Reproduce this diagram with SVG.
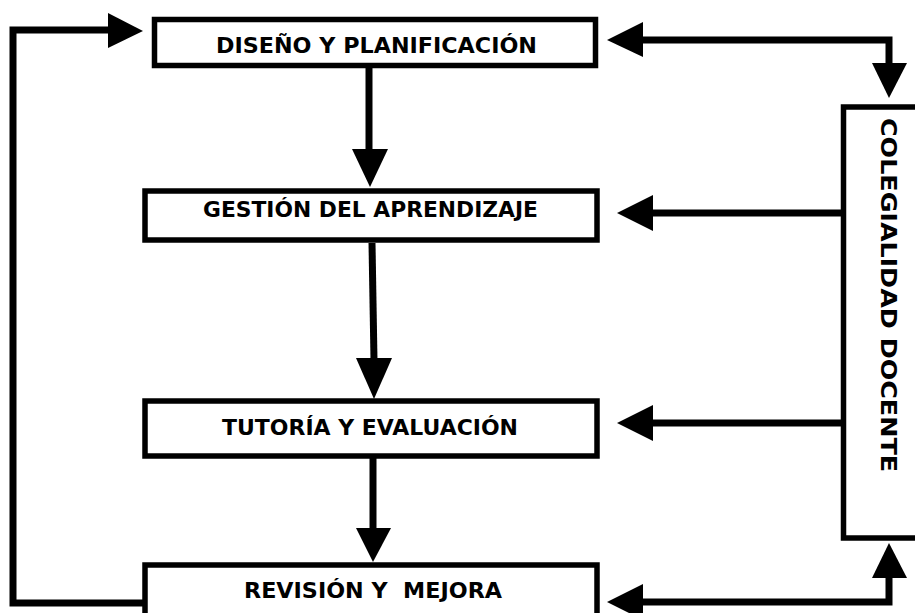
<svg xmlns="http://www.w3.org/2000/svg" width="915" height="613" viewBox="0 0 915 613">
<style>
.box{fill:#fff;stroke:#000;stroke-width:5.5}
.t{font-family:"DejaVu Sans","Verdana",sans-serif;font-weight:bold;font-size:21px;fill:#000;text-anchor:middle}
.ln{fill:none;stroke:#000;stroke-width:7;stroke-linejoin:miter}
.hd{fill:#000}
</style>
<rect width="915" height="613" fill="#fff"/>
<g id="connectors">
<polyline class="ln" points="143,603 13,603 13,30 110,30"/>
<polygon class="hd" points="108,13 143,31 108,48"/>
<line class="ln" x1="369" y1="68" x2="369" y2="151"/>
<polygon class="hd" points="352,149 388,149 370,187"/>
<line class="ln" x1="372" y1="243" x2="374" y2="360"/>
<polygon class="hd" points="356,358 392,358 374,399"/>
<line class="ln" x1="373" y1="457" x2="373" y2="530"/>
<polygon class="hd" points="356,528 391,528 373,562"/>
<polyline class="ln" points="643,40 889,40 889,64"/>
<polygon class="hd" points="607,40 643,22 643,57"/>
<polygon class="hd" points="872,63 907,63 889,98"/>
<line class="ln" x1="653" y1="213" x2="843" y2="213"/>
<polygon class="hd" points="617,213 653,195 653,231"/>
<line class="ln" x1="653" y1="423" x2="843" y2="423"/>
<polygon class="hd" points="617,423 653,405 653,441"/>
<polyline class="ln" points="643,602 889,602 889,577"/>
<polygon class="hd" points="607,602 643,584 643,620"/>
<polygon class="hd" points="872,578 907,578 889,543"/>
</g>
<g id="node-diseno">
<rect class="box" x="154.5" y="19.5" width="441" height="46"/>
<text class="t" x="376.5" y="53" textLength="321" lengthAdjust="spacingAndGlyphs">DISEÑO Y PLANIFICACIÓN</text>
</g>
<g id="node-gestion">
<rect class="box" x="145" y="191" width="452" height="49"/>
<text class="t" x="370.5" y="217" textLength="335" lengthAdjust="spacingAndGlyphs">GESTIÓN DEL APRENDIZAJE</text>
</g>
<g id="node-tutoria">
<rect class="box" x="145" y="401" width="452" height="55"/>
<text class="t" x="370" y="435" textLength="296" lengthAdjust="spacingAndGlyphs">TUTORÍA Y EVALUACIÓN</text>
</g>
<g id="node-revision">
<rect class="box" x="145" y="565" width="452" height="60"/>
<text class="t" x="373" y="598" xml:space="preserve" textLength="258" lengthAdjust="spacingAndGlyphs">REVISIÓN Y  MEJORA</text>
</g>
<g id="node-colegialidad">
<rect class="box" x="843.5" y="107" width="100" height="431"/>
<text class="t" transform="translate(881,295) rotate(90)" x="0" y="0" textLength="354" lengthAdjust="spacingAndGlyphs">COLEGIALIDAD DOCENTE</text>
</g>
</svg>
